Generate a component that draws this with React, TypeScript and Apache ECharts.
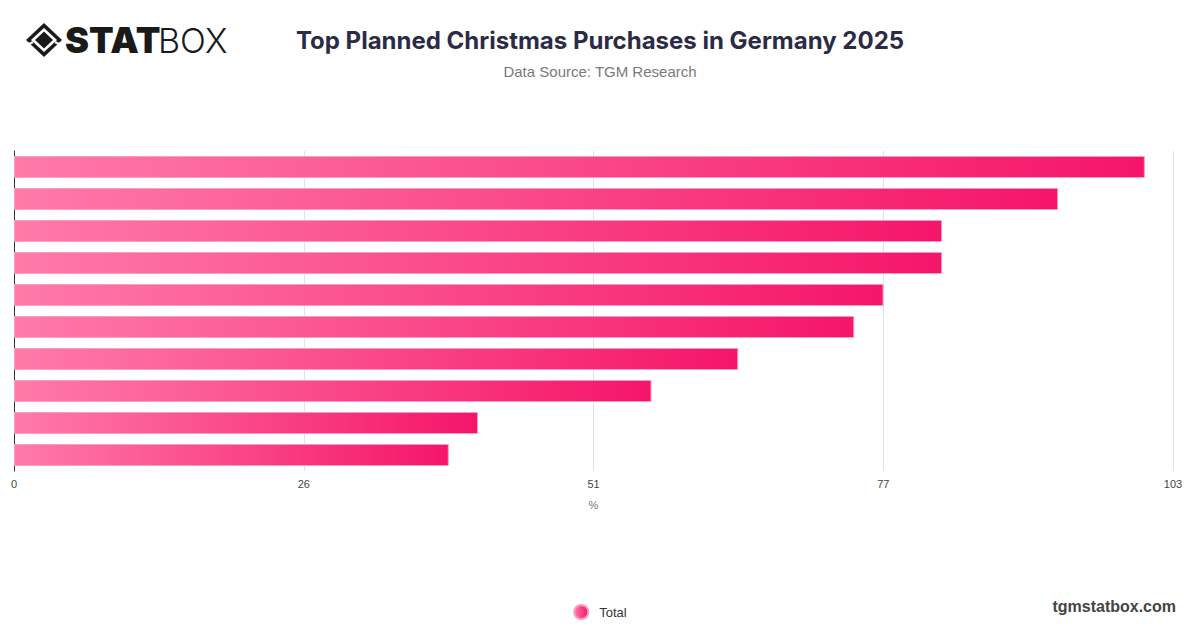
import React, { useEffect, useRef } from "react";
import * as echarts from "echarts";

const categories = [
  "Item 1",
  "Item 2",
  "Item 3",
  "Item 4",
  "Item 5",
  "Item 6",
  "Item 7",
  "Item 8",
  "Item 9",
  "Item 10",
];
const totalValues = [100.4, 92.7, 82.4, 82.4, 77.2, 74.6, 64.3, 56.6, 41.2, 38.6];
const seriesName = "Total";
const axisMax = 102.9;
const axisInterval = 25.725;

const barGradient = () =>
  new echarts.graphic.LinearGradient(0, 0, 1, 0, [
    { offset: 0, color: "#ff7aa8" },
    { offset: 1, color: "#f5156a" },
  ]);

export default function App() {
  const ref = useRef<HTMLDivElement>(null);

  useEffect(() => {
    document.body.style.margin = "0";
    if (!ref.current) return;
    const chart = echarts.init(ref.current, undefined, { renderer: "svg" });
    chart.setOption({
      animation: false,
      backgroundColor: "#ffffff",
      title: {
        text: "Top Planned Christmas Purchases in Germany 2025",
        subtext: "Data Source: TGM Research",
        left: "center",
        top: 21,
        itemGap: 8,
        textStyle: {
          fontFamily: "Inter",
          fontWeight: "bold",
          fontSize: 24,
          lineHeight: 28,
          color: "#2c2b45",
        },
        subtextStyle: {
          fontFamily: "Liberation Sans",
          fontSize: 15,
          lineHeight: 18,
          color: "#7a7a7a",
        },
      },
      legend: {
        data: [seriesName],
        left: "center",
        top: 599,
        icon: "circle",
        itemWidth: 14,
        itemHeight: 14,
        itemGap: 10,
        textStyle: {
          fontFamily: "Liberation Sans",
          fontSize: 13,
          color: "#333",
          padding: [0, 0, 0, 6],
        },
      },
      grid: { left: 14, right: 27, top: 151, bottom: 157, containLabel: false },
      xAxis: {
        type: "value",
        min: 0,
        max: axisMax,
        interval: axisInterval,
        name: "%",
        nameLocation: "middle",
        nameGap: 28,
        nameTextStyle: { fontFamily: "Liberation Sans", fontSize: 11, color: "#777" },
        axisLine: { show: false },
        axisTick: { show: false },
        axisLabel: {
          margin: 7,
          fontFamily: "Liberation Sans",
          fontSize: 11,
          color: "#444",
          formatter: (v: number) => String(Math.round(v)),
        },
        splitLine: { show: true, lineStyle: { color: "#e2e2e2", width: 1 } },
      },
      yAxis: {
        type: "category",
        data: categories,
        inverse: true,
        axisLine: { show: true, lineStyle: { color: "#333", width: 1 } },
        axisTick: { show: false },
        axisLabel: { show: false },
        splitLine: { show: false },
      },
      series: [
        {
          name: seriesName,
          type: "bar",
          data: totalValues,
          barWidth: 22,
          itemStyle: {
            color: barGradient(),
            borderColor: "#ff9cc2",
            borderWidth: 1,
          },
        },
      ],
      graphic: [
        {
          type: "polygon",
          shape: { points: [[26, 40], [44, 23], [62, 40], [44, 57]] },
          style: { fill: "#1a1a1a" },
        },
        {
          type: "polygon",
          shape: { points: [[31, 40], [44, 28], [57, 40], [44, 52]] },
          style: { fill: "#ffffff" },
        },
        {
          type: "polygon",
          shape: { points: [[35, 40], [44, 31.5], [53, 40], [44, 48.5]] },
          style: { fill: "#1a1a1a" },
        },
        {
          type: "line",
          shape: { x1: 27, y1: 45, x2: 33, y2: 42 },
          style: { stroke: "#ffffff", lineWidth: 2 },
        },
        {
          type: "line",
          shape: { x1: 61, y1: 45, x2: 55, y2: 42 },
          style: { stroke: "#ffffff", lineWidth: 2 },
        },
        {
          type: "text",
          x: 65,
          y: 40,
          style: {
            text: "STAT",
            fontFamily: "Inter",
            fontWeight: 900,
            fontSize: 36,
            fill: "#1a1a1a",
            textVerticalAlign: "middle",
          },
        },
        {
          type: "text",
          x: 158,
          y: 40,
          style: {
            text: "BOX",
            fontFamily: "Inter",
            fontWeight: 300,
            fontSize: 34,
            fill: "#1a1a1a",
            textVerticalAlign: "middle",
          },
        },
        {
          type: "text",
          right: 24,
          top: 598,
          style: {
            text: "tgmstatbox.com",
            fontFamily: "Liberation Sans",
            fontWeight: "bold",
            fontSize: 16,
            fill: "#444",
          },
        },
      ],
    });
    return () => chart.dispose();
  }, []);

  return <div ref={ref} style={{ width: 1200, height: 628 }} />;
}
